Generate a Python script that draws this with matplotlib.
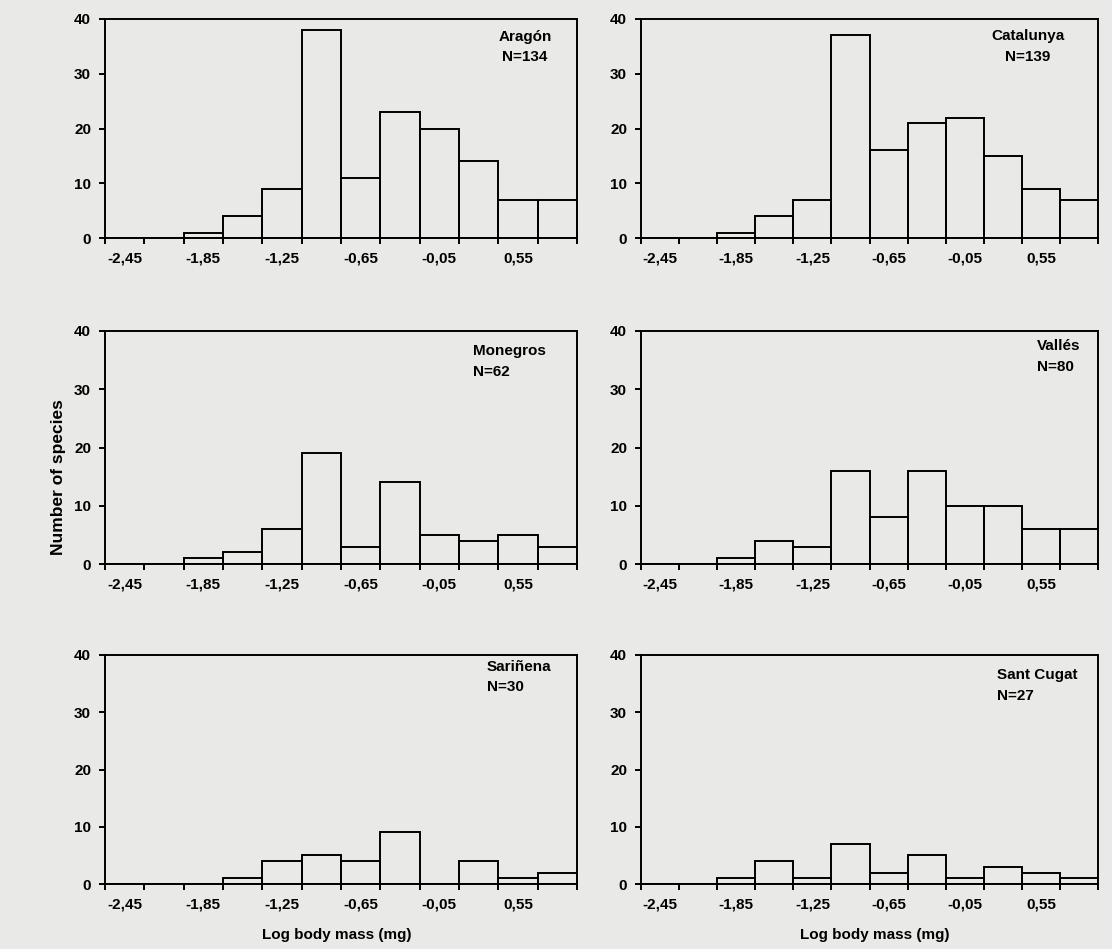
import matplotlib
matplotlib.use("Agg")
import matplotlib.pyplot as plt

plt.rcParams['font.family'] = ['Liberation Sans', 'DejaVu Sans']
plt.rcParams['font.weight'] = 'bold'

# Category (bin centre) values of log body mass (mg), bin width 0.3
bin_centres = [-2.45, -2.15, -1.85, -1.55, -1.25, -0.95, -0.65, -0.35, -0.05, 0.25, 0.55, 0.85]
tick_labels = ["-2,45", "-1,85", "-1,25", "-0,65", "-0,05", "0,55"]
label_positions = [-2.45, -1.85, -1.25, -0.65, -0.05, 0.55]

aragon = [0, 0, 1, 4, 9, 38, 11, 23, 20, 14, 7, 7]
catalunya = [0, 0, 1, 4, 7, 37, 16, 21, 22, 15, 9, 7]
monegros = [0, 0, 1, 2, 6, 19, 3, 14, 5, 4, 5, 3]
valles = [0, 0, 1, 4, 3, 16, 8, 16, 10, 10, 6, 6]
sarinena = [0, 0, 0, 1, 4, 5, 4, 9, 0, 4, 1, 2]
sant_cugat = [0, 0, 1, 4, 1, 7, 2, 5, 1, 3, 2, 1]

names = ["Aragón", "Catalunya", "Monegros", "Vallés", "Sariñena", "Sant Cugat"]
counts = ["N=134", "N=139", "N=62", "N=80", "N=30", "N=27"]
series = [aragon, catalunya, monegros, valles, sarinena, sant_cugat]

W, H = 1112, 949
bg = '#e9e9e7'
fig = plt.figure(figsize=(W / 100, H / 100), dpi=100, facecolor=bg)

cols = [(105, 577), (641, 1098)]
rows = [(19, 238), (331, 564), (655, 884)]

# text positions (axes fraction): x, y1, y2, ha
text_pos = [
    (0.89, 0.918, 0.826, 'center'),
    (0.847, 0.922, 0.826, 'center'),
    (0.78, 0.914, 0.824, 'left'),
    (0.867, 0.936, 0.845, 'left'),
    (0.809, 0.948, 0.860, 'left'),
    (0.779, 0.913, 0.821, 'left'),
]

fs = 11
lw = 1.4
for i, vals in enumerate(series):
    r, c = divmod(i, 2)
    x0, x1 = cols[c]
    y0, y1 = rows[r]
    ax = fig.add_axes([x0 / W, 1 - y1 / H, (x1 - x0) / W, (y1 - y0) / H])
    ax.set_facecolor(bg)
    ax.bar(bin_centres, vals, width=0.3, align='center', facecolor='none',
           edgecolor='black', linewidth=lw, zorder=3)
    ax.set_xlim(-2.6, 1.0)
    ax.set_ylim(0, 40)
    edges = [-2.6 + 0.3 * k for k in range(13)]
    ax.set_xticks(edges)
    ax.set_xticklabels([])
    ax.set_xticks(label_positions, minor=True)
    ax.set_xticklabels(tick_labels, minor=True, fontsize=fs, fontweight='bold')
    ax.tick_params(axis='x', which='major', direction='out', length=4, width=lw)
    ax.tick_params(axis='x', which='minor', length=0, pad=10)
    ax.set_yticks([0, 10, 20, 30, 40])
    ax.set_yticklabels(["0", "10", "20", "30", "40"], fontsize=fs, fontweight='bold')
    ax.tick_params(axis='y', direction='out', length=4, width=lw, pad=6)
    for s in ax.spines.values():
        s.set_linewidth(lw)
        s.set_color('black')
    tx, ty1, ty2, ha = text_pos[i]
    ax.text(tx, ty1, names[i], transform=ax.transAxes, ha=ha, va='center',
            fontsize=fs, fontweight='bold')
    ax.text(tx, ty2, counts[i], transform=ax.transAxes, ha=ha, va='center',
            fontsize=fs, fontweight='bold')

fig.text(58 / W, 1 - 477 / H, "Number of species", rotation=90, ha='center',
         va='center', fontsize=12.5, fontweight='bold')
fig.text(337 / W, 1 - 935 / H, "Log body mass (mg)", ha='center', va='center',
         fontsize=11, fontweight='bold')
fig.text(875 / W, 1 - 935 / H, "Log body mass (mg)", ha='center', va='center',
         fontsize=11, fontweight='bold')

fig.savefig("out.png", dpi=100, facecolor=bg)
